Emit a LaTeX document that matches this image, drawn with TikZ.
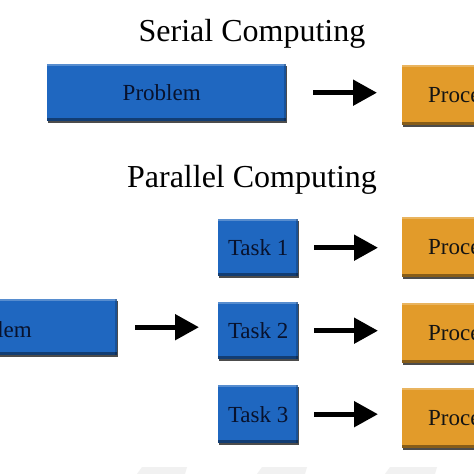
\documentclass[tikz,border=0pt]{standalone}
\usepackage{fontspec}
\setmainfont{Liberation Serif}
\usetikzlibrary{arrows.meta,shadows}
\definecolor{boxblue}{RGB}{31,103,192}
\definecolor{boxorange}{RGB}{226,155,42}
\definecolor{navytext}{RGB}{8,18,45}
\definecolor{faint}{RGB}{241,241,241}
\begin{document}
\begin{tikzpicture}[x=1pt,y=-1pt,
  basebox/.style={rectangle, inner sep=0pt, anchor=north west,
    font=\fontsize{23}{27}\selectfont,
    drop shadow={shadow xshift=1.2pt, shadow yshift=-2.2pt, fill=black, opacity=.7},
    path picture={
      \fill[white,opacity=.25] (path picture bounding box.north west) rectangle ([yshift=-2pt]path picture bounding box.north east);
      \fill[black,opacity=.4] ([yshift=3pt]path picture bounding box.south west) rectangle (path picture bounding box.south east);
      \fill[black,opacity=.2] ([xshift=-2pt]path picture bounding box.north east) rectangle (path picture bounding box.south east);
    }},
  bluebox/.style={basebox, fill=boxblue, text=navytext},
  orangebox/.style={basebox, fill=boxorange, text=black!92, minimum height=60pt,
    text width=94pt, align=left, inner xsep=26pt},
  boxtext/.style={font=\fontsize{23}{27}\selectfont, text=navytext, inner sep=0pt},
  title/.style={font=\fontsize{32}{38}\selectfont, anchor=base, inner sep=0pt},
  arr/.style={line width=5pt, -{Triangle[length=24pt,width=25pt]}}]
\useasboundingbox (0,0) rectangle (474,474);
\clip (0,0) rectangle (474,474);
\fill[white] (0,0) rectangle (474,474);

% faint marks at bottom
\fill[faint] (142,467) -- (187,467) -- (185,474) -- (137,474) -- cycle;
\fill[faint] (262,467) -- (307,467) -- (305,474) -- (257,474) -- cycle;
\fill[faint] (390,467) -- (437,467) -- (435,474) -- (385,474) -- cycle;

% titles
\node[title] (serialtitle) at (252,41) {Serial Computing};
\node[title] (paralleltitle) at (252,187) {Parallel Computing};

% serial row
\node[bluebox, minimum width=239pt, minimum height=57pt] (p1) at (47,64) {\hspace*{-10pt}Problem};
\node[orangebox] (o1) at (402,65) {Proce};
\draw[arr, shorten <=27pt, shorten >=25pt] (p1.east) -- (p1.east -| o1.west);

% parallel rows
\node[bluebox, minimum width=187pt, minimum height=56pt] (pp) at (-70,299) {};
\node[boxtext, anchor=base east] (pptext) at (32,337) {lem};

\node[bluebox, minimum width=80pt, minimum height=57pt] (t1) at (218,219) {Task 1};
\node[bluebox, minimum width=80pt, minimum height=57pt] (t2) at (218,302) {Task 2};
\node[bluebox, minimum width=80pt, minimum height=58pt] (t3) at (218,385) {Task 3};

\node[orangebox] (o2) at (402,217) {Proce};
\node[orangebox] (o3) at (402,303) {Proce};
\node[orangebox] (o4) at (402,388) {Proce};

\draw[arr, shorten <=18pt, shorten >=19pt] (pp.east) -- (pp.east -| t2.west);
\draw[arr, shorten <=16pt, shorten >=24pt] (t1.east) -- (t1.east -| o2.west);
\draw[arr, shorten <=16pt, shorten >=24pt] (t2.east) -- (t2.east -| o3.west);
\draw[arr, shorten <=16pt, shorten >=24pt] (t3.east) -- (t3.east -| o4.west);
\end{tikzpicture}
\end{document}
